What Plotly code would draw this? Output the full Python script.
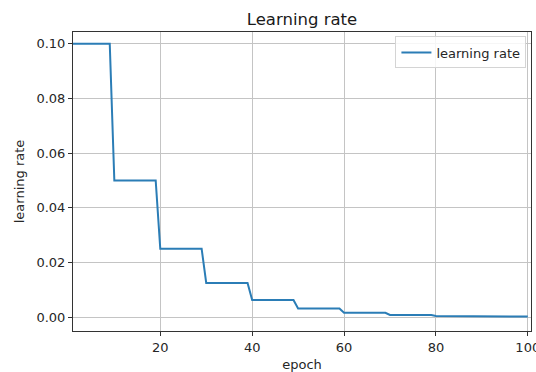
import plotly.graph_objects as go

# Step-decay learning-rate schedule (breakpoints of the line)
epochs = [1, 9, 10, 19, 20, 29, 30, 39, 40, 49, 50, 59, 60, 69, 70, 79, 80, 89, 90, 100]
learning_rate = [0.1, 0.1, 0.05, 0.05, 0.025, 0.025, 0.0125, 0.0125,
                 0.00625, 0.00625, 0.003125, 0.003125, 0.0015625, 0.0015625,
                 0.00078125, 0.00078125, 0.000390625, 0.000390625,
                 0.0001953125, 0.0001953125]
series_name = "learning rate"
x_ticks = [20, 40, 60, 80, 100]
y_ticks = [0.00, 0.02, 0.04, 0.06, 0.08, 0.10]

FONT = "DejaVu Sans"
fig = go.Figure()
fig.add_trace(go.Scatter(x=epochs, y=learning_rate, mode="lines", name=series_name,
                         line=dict(color="#2b7db6", width=2)))

axis_common = dict(showline=True, linecolor="#333333", linewidth=1, mirror=True,
                   showgrid=True, gridcolor="#c4c4c4", gridwidth=1,
                   ticks="outside", ticklen=4, tickcolor="#333333",
                   tickfont=dict(family=FONT, size=13, color="#262626"),
                   ticklabeloverflow="allow",
                   zeroline=False, automargin=False)

fig.update_layout(
    width=536, height=372,
    margin=dict(l=73, r=5, t=32, b=41),
    paper_bgcolor="white", plot_bgcolor="white",
    font=dict(family=FONT, size=13, color="#262626"),
    title=dict(text="Learning rate", x=0.5, xanchor="center", xref="paper",
               y=1, yref="paper", yanchor="bottom", pad=dict(b=7),
               font=dict(family=FONT, size=16.5, color="#1a1a1a"), automargin=False),
    showlegend=True,
    legend=dict(x=0.99, xanchor="right", y=0.985, yanchor="top",
                bgcolor="rgba(255,255,255,0.85)", bordercolor="#d4d4d4", borderwidth=1,
                entrywidth=104, entrywidthmode="pixels",
                font=dict(family=FONT, size=13, color="#262626")),
)
fig.update_xaxes(range=[1, 100.7], tickvals=x_ticks,
                 title=dict(text="epoch", standoff=6, font=dict(family=FONT, size=13)),
                 **axis_common)
fig.update_yaxes(range=[-0.0051, 0.1043], tickvals=y_ticks, tickformat=".2f",
                 title=dict(text="learning rate", standoff=8, font=dict(family=FONT, size=13)),
                 **axis_common)

fig.write_html("out.html", config={"displayModeBar": False},
               post_script="document.body.style.margin='0';document.body.style.overflow='hidden';")
